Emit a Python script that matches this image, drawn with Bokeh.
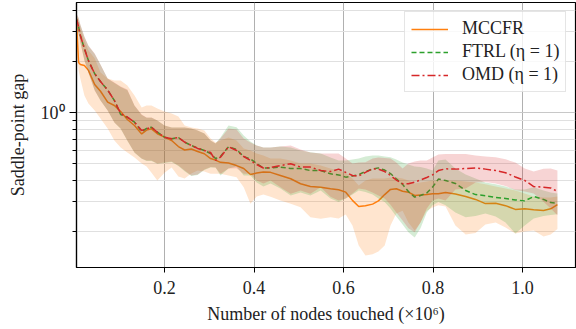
from bokeh.plotting import figure
from bokeh.models import FixedTicker, CustomJSTickFormatter, Legend, LegendItem, ColumnDataSource
from bokeh.embed import file_html
from bokeh.resources import INLINE

# ---- data ----
nodes = [0.003, 0.008, 0.012, 0.021, 0.030, 0.044, 0.057, 0.073, 0.088, 0.102,
         0.117, 0.133, 0.149, 0.160, 0.171, 0.184, 0.200, 0.216, 0.231, 0.245,
         0.260, 0.274, 0.289, 0.303, 0.314, 0.325, 0.343, 0.361, 0.377, 0.392,
         0.406, 0.421, 0.437, 0.459, 0.482, 0.504, 0.526, 0.549, 0.571, 0.589,
         0.605, 0.620, 0.634, 0.649, 0.665, 0.678, 0.692, 0.705, 0.718, 0.732,
         0.745, 0.759, 0.772, 0.786, 0.799, 0.812, 0.828, 0.850, 0.873, 0.895,
         0.917, 0.940, 0.962, 0.984, 1.005, 1.025, 1.047, 1.063, 1.078]

mccfr = [3.59, 1.98, 1.93, 1.90, 1.78, 1.47, 1.34, 1.155, 1.104, 1.018,
         0.913, 0.841, 0.75, 0.79, 0.804, 0.752, 0.718, 0.686, 0.632, 0.603,
         0.611, 0.591, 0.573, 0.537, 0.526, 0.51, 0.505, 0.488, 0.469, 0.432,
         0.441, 0.447, 0.445, 0.4265, 0.408, 0.381, 0.367, 0.364, 0.356, 0.351,
         0.34, 0.304, 0.280, 0.283, 0.289, 0.302, 0.329, 0.353, 0.356, 0.344,
         0.34, 0.325, 0.327, 0.329, 0.333, 0.333, 0.338, 0.332, 0.3205, 0.308,
         0.291, 0.292, 0.283, 0.269, 0.271, 0.268, 0.265, 0.271, 0.287]
mccfr_hi = [3.75, 3.5, 3.15, 2.67, 2.33, 2.1, 1.73, 1.594, 1.55, 1.55,
            1.45, 1.265, 1.075, 1.104, 1.104, 1.06, 1.018, 0.99, 0.95, 0.841,
            0.82, 0.808, 0.786, 0.706, 0.668, 0.686, 0.715, 0.686, 0.616, 0.599,
            0.575, 0.56, 0.537, 0.537, 0.523, 0.502, 0.502, 0.488, 0.469, 0.456,
            0.443, 0.41, 0.372, 0.3985, 0.41, 0.41, 0.41, 0.415, 0.415, 0.41,
            0.3985, 0.3825, 0.388, 0.393, 0.3985, 0.3985, 0.3985, 0.3985, 0.393, 0.388,
            0.378, 0.367, 0.357, 0.3477, 0.334, 0.3205, 0.316, 0.316, 0.3205]
mccfr_lo = [2.5, 1.78, 1.59, 1.265, 1.135, 1.032, 0.925, 0.808, 0.686, 0.624,
            0.583, 0.545, 0.502, 0.482, 0.443, 0.3985, 0.443, 0.475, 0.42, 0.41,
            0.438, 0.456, 0.45, 0.437, 0.437, 0.437, 0.4265, 0.417, 0.364, 0.29,
            0.3205, 0.329, 0.319, 0.3036, 0.29, 0.277, 0.242, 0.237, 0.242, 0.238,
            0.251, 0.216, 0.1646, 0.1437, 0.146, 0.152, 0.1646, 0.216, 0.2544, 0.264,
            0.225, 0.202, 0.225, 0.264, 0.276, 0.285, 0.2798, 0.216, 0.191, 0.195,
            0.219, 0.225, 0.21, 0.194, 0.199, 0.202, 0.186, 0.191, 0.206]

ftrl = [3.59, 3.23, 2.86, 2.39, 2.035, 1.70, 1.53, 1.363, 1.182, 0.977,
        0.94, 0.88, 0.775, 0.808, 0.822, 0.768, 0.718, 0.702, 0.715, 0.671,
        0.641, 0.62, 0.599, 0.575, 0.537, 0.552, 0.63, 0.607, 0.552, 0.534,
        0.502, 0.472, 0.472, 0.478, 0.469, 0.469, 0.456, 0.456, 0.436, 0.43,
        0.417, 0.423, 0.432, 0.45, 0.465, 0.473, 0.459, 0.438, 0.408, 0.378,
        0.343, 0.318, 0.325, 0.336, 0.364, 0.406, 0.3985, 0.3825, 0.3477, 0.329,
        0.324, 0.316, 0.312, 0.306, 0.302, 0.3205, 0.308, 0.295, 0.292]
ftrl_hi = [3.84, 3.62, 3.3, 2.8, 2.48, 2.22, 1.92, 1.59, 1.5, 1.42,
           1.36, 1.1, 0.97, 0.935, 0.935, 0.9, 0.84, 0.82, 0.82, 0.82,
           0.808, 0.786, 0.755, 0.686, 0.659, 0.715, 0.841, 0.822, 0.735, 0.677,
           0.641, 0.624, 0.624, 0.632, 0.624, 0.599, 0.585, 0.575, 0.545, 0.523,
           0.523, 0.53, 0.537, 0.552, 0.56, 0.56, 0.552, 0.547, 0.53, 0.508,
           0.495, 0.482, 0.478, 0.469, 0.456, 0.523, 0.53, 0.469, 0.432, 0.41,
           0.388, 0.378, 0.367, 0.352, 0.352, 0.364, 0.3477, 0.338, 0.334]
ftrl_lo = [3.28, 2.95, 2.6, 2.04, 1.73, 1.36, 1.18, 1.03, 0.875, 0.805,
           0.685, 0.58, 0.535, 0.52, 0.52, 0.5, 0.505, 0.512, 0.485, 0.452,
           0.424, 0.43, 0.46, 0.475, 0.475, 0.4265, 0.469, 0.482, 0.4265, 0.4265,
           0.388, 0.367, 0.3825, 0.357, 0.325, 0.338, 0.325, 0.3477, 0.312, 0.297,
           0.312, 0.329, 0.3477, 0.341, 0.329, 0.312, 0.297, 0.272, 0.244, 0.219,
           0.197, 0.1836, 0.208, 0.258, 0.285, 0.297, 0.285, 0.258, 0.242, 0.246,
           0.254, 0.244, 0.225, 0.194, 0.216, 0.238, 0.246, 0.249, 0.252]

omd = [3.59, 3.23, 2.86, 2.39, 2.035, 1.70, 1.53, 1.363, 1.182, 0.99,
       0.944, 0.88, 0.786, 0.804, 0.822, 0.768, 0.718, 0.702, 0.715, 0.671,
       0.641, 0.616, 0.599, 0.583, 0.523, 0.547, 0.63, 0.599, 0.552, 0.523,
       0.495, 0.472, 0.475, 0.488, 0.5, 0.478, 0.478, 0.456, 0.45, 0.465,
       0.445, 0.4265, 0.423, 0.445, 0.467, 0.465, 0.45, 0.4265, 0.401, 0.381,
       0.381, 0.39, 0.401, 0.415, 0.43, 0.456, 0.467, 0.465, 0.469, 0.473,
       0.465, 0.456, 0.443, 0.418, 0.3985, 0.367, 0.364, 0.36, 0.344]
omd_hi = [3.86, 3.65, 3.32, 2.82, 2.5, 2.24, 1.93, 1.594, 1.51, 1.43,
          1.373, 1.104, 0.977, 0.938, 0.938, 0.9, 0.841, 0.82, 0.82, 0.82,
          0.808, 0.786, 0.755, 0.686, 0.659, 0.706, 0.808, 0.797, 0.706, 0.668,
          0.641, 0.624, 0.624, 0.632, 0.641, 0.607, 0.583, 0.575, 0.575, 0.575,
          0.537, 0.502, 0.508, 0.51, 0.537, 0.545, 0.541, 0.537, 0.508, 0.469,
          0.502, 0.516, 0.523, 0.523, 0.545, 0.568, 0.572, 0.572, 0.571, 0.56,
          0.552, 0.547, 0.531, 0.508, 0.469, 0.45, 0.467, 0.469, 0.456]
omd_lo = [3.27, 2.94, 2.6, 2.035, 1.73, 1.354, 1.182, 1.032, 0.876, 0.808,
          0.686, 0.583, 0.537, 0.523, 0.523, 0.502, 0.508, 0.516, 0.488, 0.456,
          0.4265, 0.432, 0.462, 0.478, 0.475, 0.437, 0.469, 0.47, 0.437, 0.437,
          0.3985, 0.3825, 0.3985, 0.363, 0.333, 0.3477, 0.333, 0.363, 0.319, 0.3036,
          0.312, 0.334, 0.357, 0.353, 0.338, 0.325, 0.312, 0.287, 0.258, 0.2312,
          0.208, 0.197, 0.225, 0.272, 0.3036, 0.312, 0.3036, 0.353, 0.357, 0.388,
          0.39, 0.3825, 0.37, 0.35, 0.343, 0.334, 0.298, 0.272, 0.248]

x_ticks = [0.2, 0.4, 0.6, 0.8, 1.0]
y_major = [1.0]
y_minor = [0.2, 0.3, 0.4, 0.5, 0.6, 0.7, 0.8, 0.9, 2.0, 3.0, 4.0]

FONT = "Liberation Serif"

p = figure(width=576, height=329, y_axis_type="log",
           x_range=(0.00335, 1.1184), y_range=(0.1221, 4.478),
           output_backend="svg", toolbar_location=None,
           min_border_left=76, min_border_right=1, min_border_top=2, min_border_bottom=62)

p.outline_line_color = "black"
p.outline_line_width = 1.2
p.background_fill_color = "white"

# grids
p.xgrid.grid_line_color = "#b0b0b0"
p.xgrid.grid_line_width = 1
p.ygrid.grid_line_color = "#c8c8c8"
p.ygrid.minor_grid_line_color = "#e0e0e0"
p.ygrid.grid_line_width = 1
p.ygrid.minor_grid_line_width = 1

# axes
p.xaxis.ticker = FixedTicker(ticks=x_ticks, minor_ticks=[])
p.xaxis.formatter = CustomJSTickFormatter(code="return tick.toFixed(1);")
p.yaxis.ticker = FixedTicker(ticks=y_major, minor_ticks=y_minor)
p.yaxis.formatter = CustomJSTickFormatter(code="return '10\u2070';")

for ax in (p.xaxis[0], p.yaxis[0]):
    ax.axis_line_color = "black"
    ax.axis_line_width = 1.2
    ax.major_tick_line_color = "black"
    ax.minor_tick_line_color = "black"
    ax.major_tick_in = 0
    ax.minor_tick_in = 0
    ax.major_label_text_font = FONT
    ax.major_label_text_font_size = "18px"
    ax.major_label_text_color = "#222222"
    ax.axis_label_text_font = FONT
    ax.axis_label_text_font_size = "18px"
    ax.axis_label_text_font_style = "normal"
    ax.axis_label_text_color = "#222222"

p.xaxis.major_tick_out = 5
p.xaxis.minor_tick_out = 0
p.xaxis.major_label_standoff = 8
p.xaxis.axis_label = "Number of nodes touched (\u00d710\u2076)"
p.xaxis.axis_label_standoff = 7

p.yaxis.major_tick_out = 7
p.yaxis.minor_tick_out = 4
p.yaxis.major_label_standoff = 5
p.yaxis.axis_label = "Saddle-point gap"
p.yaxis.axis_label_standoff = 10

src = ColumnDataSource(dict(x=nodes, m=mccfr, mh=mccfr_hi, ml=mccfr_lo,
                            f=ftrl, fh=ftrl_hi, fl=ftrl_lo,
                            o=omd, oh=omd_hi, ol=omd_lo))

ORANGE, GREEN, RED = "#ff7f0e", "#2ca02c", "#d62728"

l_m = p.line("x", "m", source=src, line_color=ORANGE, line_width=1.5)
p.varea(x="x", y1="ml", y2="mh", source=src, fill_color=ORANGE, fill_alpha=0.2)
l_f = p.line("x", "f", source=src, line_color=GREEN, line_width=1.5, line_dash="5 3")
p.varea(x="x", y1="fl", y2="fh", source=src, fill_color=GREEN, fill_alpha=0.2)
l_o = p.line("x", "o", source=src, line_color=RED, line_width=1.5, line_dash="8 3 2 3")
p.varea(x="x", y1="ol", y2="oh", source=src, fill_color=RED, fill_alpha=0.2)

legend = Legend(items=[LegendItem(label="MCCFR", renderers=[l_m]),
                       LegendItem(label="FTRL (\u03b7 = 1)", renderers=[l_f]),
                       LegendItem(label="OMD (\u03b7 = 1)", renderers=[l_o])],
                location=(328, 175))
legend.label_text_font = FONT
legend.label_text_font_size = "18px"
legend.label_text_color = "#222222"
legend.glyph_width = 37
legend.glyph_height = 20
legend.label_height = 20
legend.label_standoff = 14
legend.spacing = 2
legend.padding = 6
legend.margin = 0
legend.border_line_color = "#cccccc"
legend.border_line_width = 1
legend.background_fill_color = "white"
legend.background_fill_alpha = 0.8
p.add_layout(legend, "center")

open("out.html", "w").write(file_html(p, INLINE))
